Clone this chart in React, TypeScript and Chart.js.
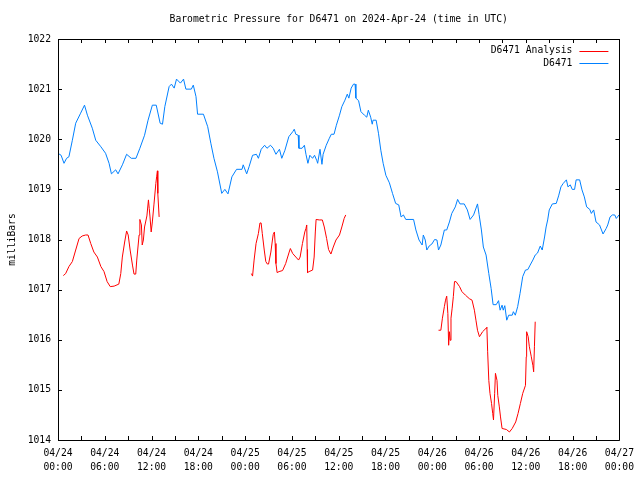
import React, { useEffect, useRef } from "react";
import { Chart, registerables } from "chart.js";

Chart.register(...registerables);

const TITLE = "Barometric Pressure for D6471 on 2024-Apr-24 (time in UTC)";
const Y_TITLE = "milliBars";
const START_DAY = 24;
const X_MIN = 0;
const X_MAX = 72;
const Y_MIN = 1014;
const Y_MAX = 1022;

const analysisLabel = "D6471 Analysis";
const observedLabel = "D6471";

// hours since 2024-04-24 00:00 UTC
const observedHours = [
  0.0, 0.4, 0.77, 1.1, 1.4, 1.84, 2.27, 2.9, 3.4, 3.77, 4.4, 4.84, 5.5, 6.1, 6.55, 6.85, 7.4, 7.7, 8.26, 8.8,
  9.4, 10.0, 10.5, 11.1, 11.55, 12.1, 12.6, 13.1, 13.4, 13.7, 14.25, 14.55, 14.9, 15.2, 15.7, 16.1, 16.4, 17.1,
  17.35, 17.7, 17.9, 18.65, 19.2, 19.6, 20.0, 20.45, 21.0, 21.4, 21.8, 22.3, 22.9, 23.6, 23.75, 24.2, 24.5,
  24.95, 25.45, 25.7, 26.06, 26.5, 26.8, 27.25, 27.6, 27.95, 28.4, 28.7, 29.1, 29.6, 30.1, 30.3, 30.5, 30.8,
  30.9, 31.3, 31.6, 31.8, 32.05, 32.3, 32.65, 32.9, 33.2, 33.3, 33.6, 33.85, 34.0, 34.4, 34.8, 35.05, 35.4,
  35.7, 36.1, 36.4, 36.8, 37.1, 37.3, 37.6, 37.9, 38.1, 38.2, 38.55, 38.85, 39.3, 39.6, 39.8, 40.1, 40.3, 40.4,
  40.8, 41.1, 41.4, 41.7, 42.05, 42.5, 42.9, 43.3, 43.7, 44.0, 44.3, 44.6, 45.6, 45.9, 46.3, 46.7, 46.85, 47.1,
  47.3, 47.6, 47.95, 48.3, 48.6, 48.8, 49.1, 49.55, 49.85, 50.2, 50.5, 50.95, 51.25, 51.55, 52.1, 52.5, 52.85,
  53.3, 53.8, 54.0, 54.3, 54.55, 54.9, 55.25, 55.55, 55.8, 56.2, 56.5, 56.7, 56.95, 57.1, 57.3, 57.55, 57.8,
  58.25, 58.4, 58.65, 58.95, 59.25, 59.6, 59.95, 60.25, 60.55, 60.9, 61.2, 61.5, 61.85, 62.1, 62.4, 62.6, 62.8,
  63.0, 63.4, 63.9, 64.2, 64.5, 64.8, 65.2, 65.4, 65.7, 65.95, 66.25, 66.45, 66.9, 67.2, 67.5, 67.8, 68.2, 68.4,
  68.7, 69.0, 69.45, 69.9, 70.3, 70.5, 70.8, 71.1, 71.4, 71.6, 71.95,
];

const observedPressure = [
  1019.72, 1019.68, 1019.52, 1019.62, 1019.65, 1019.98, 1020.32, 1020.52, 1020.68, 1020.48, 1020.22, 1019.98,
  1019.85, 1019.72, 1019.52, 1019.31, 1019.39, 1019.31, 1019.49, 1019.7, 1019.62, 1019.62, 1019.82, 1020.08,
  1020.38, 1020.68, 1020.68, 1020.32, 1020.3, 1020.65, 1021.05, 1021.1, 1021.02, 1021.2, 1021.12, 1021.2,
  1021.0, 1021.0, 1021.08, 1020.85, 1020.5, 1020.5, 1020.25, 1019.92, 1019.62, 1019.35, 1018.92, 1019.0,
  1018.91, 1019.25, 1019.4, 1019.4, 1019.49, 1019.31, 1019.45, 1019.68, 1019.7, 1019.62, 1019.8, 1019.88,
  1019.82, 1019.88, 1019.82, 1019.7, 1019.8, 1019.62, 1019.78, 1020.05, 1020.15, 1020.2, 1020.1, 1020.08,
  1019.82, 1019.82, 1019.88, 1019.7, 1019.52, 1019.68, 1019.62, 1019.68, 1019.57, 1019.52, 1019.8, 1019.5,
  1019.7, 1019.88, 1020.02, 1020.1, 1020.1, 1020.28, 1020.48, 1020.65, 1020.78, 1020.9, 1020.82, 1021.02,
  1021.1, 1021.1, 1020.82, 1020.77, 1020.55, 1020.48, 1020.44, 1020.58, 1020.44, 1020.3, 1020.38, 1020.38,
  1020.12, 1019.78, 1019.52, 1019.28, 1019.13, 1018.92, 1018.72, 1018.69, 1018.45, 1018.49, 1018.4, 1018.4,
  1018.19, 1017.99, 1017.89, 1018.09, 1017.99, 1017.79, 1017.87, 1017.91, 1018.0, 1017.99, 1017.79, 1017.89,
  1018.19, 1018.19, 1018.35, 1018.52, 1018.65, 1018.8, 1018.71, 1018.71, 1018.59, 1018.4, 1018.49, 1018.71,
  1018.5, 1018.19, 1017.85, 1017.69, 1017.32, 1017.02, 1016.7, 1016.7, 1016.78, 1016.59, 1016.69, 1016.59,
  1016.68, 1016.39, 1016.49, 1016.49, 1016.56, 1016.49, 1016.66, 1016.92, 1017.26, 1017.39, 1017.4, 1017.49,
  1017.59, 1017.69, 1017.73, 1017.87, 1017.79, 1018.05, 1018.25, 1018.39, 1018.59, 1018.71, 1018.72, 1018.87,
  1019.05, 1019.12, 1019.19, 1019.05, 1019.09, 1019.0, 1019.0, 1019.19, 1019.19, 1018.99, 1018.85, 1018.65,
  1018.6, 1018.52, 1018.59, 1018.35, 1018.29, 1018.11, 1018.22, 1018.29, 1018.45, 1018.49, 1018.49, 1018.42,
  1018.49,
];

// null entries break the analysis line into its separate runs
const analysisHours = [
  0.68, 0.98, 1.4, 1.84, 2.27, 2.7, 3.1, 3.55, 3.85, 4.2, 4.6, 5.05, 5.5, 5.9, 6.3, 6.7, 7.2, 7.8, 8.05, 8.25,
  8.55, 8.8, 9.0, 9.25, 9.55, 9.75, 9.97, 10.1, 10.4, 10.5, 10.7, 10.8, 10.95, 11.1, 11.4, 11.6, 11.7, 11.8,
  11.95, 12.1, 12.3, 12.55, 12.65, 12.75, 12.8, 12.97,
  18.0,
  24.8, 24.95, 25.15, 25.4, 25.7, 25.9, 26.05, 26.2, 26.45, 26.65, 26.85, 27.0, 27.3, 27.5, 27.6, 27.75, 27.85,
  27.95, 28.1, 28.35, 28.8, 29.2, 29.65, 29.8, 30.1, 30.5, 30.85, 31.05, 31.35, 31.65, 31.8, 31.9, 31.95, 32.0,
  32.2, 32.65, 32.85, 33.0, 33.1, 33.5, 33.9, 34.15, 34.45, 34.7, 35.0, 35.3, 35.65, 36.1, 36.4, 36.7, 36.9,
  42.0,
  48.8, 49.1, 49.3, 49.55, 49.7, 49.85, 50.0, 50.1, 50.2, 50.3, 50.4, 50.55, 50.7, 50.85, 51.05, 51.5, 51.8,
  52.25, 52.75, 53.1, 53.4, 53.6, 53.8, 54.05, 54.45, 54.9, 55.0, 55.1, 55.25, 55.4, 55.6, 55.75, 55.85, 56.0,
  56.1, 56.3, 56.4, 56.6, 56.75, 56.95, 57.5, 57.9, 58.25, 58.7, 59.0, 59.3, 59.6, 59.95, 60.05, 60.1, 60.3,
  60.45, 60.7, 60.9, 61.0, 61.1, 61.2,
];

const analysisPressure = [
  1017.28, 1017.32, 1017.46, 1017.56, 1017.79, 1018.02, 1018.07, 1018.09, 1018.09, 1017.92, 1017.75, 1017.65,
  1017.46, 1017.36, 1017.16, 1017.06, 1017.07, 1017.11, 1017.32, 1017.65, 1017.95, 1018.17, 1018.09, 1017.79,
  1017.49, 1017.31, 1017.31, 1017.59, 1018.09, 1018.4, 1018.29, 1017.89, 1017.99, 1018.25, 1018.47, 1018.79,
  1018.62, 1018.45, 1018.15, 1018.35, 1018.69, 1019.12, 1019.25, 1019.37, 1018.92, 1018.45,
  null,
  1017.32, 1017.27, 1017.59, 1017.92, 1018.12, 1018.33, 1018.33, 1018.12, 1017.79, 1017.56, 1017.51, 1017.51,
  1017.75, 1017.99, 1018.1, 1018.15, 1017.92, 1017.52, 1017.34, 1017.36, 1017.38, 1017.52, 1017.75, 1017.82,
  1017.72, 1017.65, 1017.59, 1017.65, 1017.92, 1018.15, 1018.22, 1018.29, 1017.8, 1017.34, 1017.36, 1017.39,
  1017.65, 1018.15, 1018.4, 1018.39, 1018.39, 1018.25, 1018.02, 1017.8, 1017.71, 1017.85, 1017.99, 1018.09,
  1018.25, 1018.42, 1018.49,
  null,
  1016.19, 1016.19, 1016.43, 1016.66, 1016.79, 1016.87, 1016.52, 1015.89, 1016.16, 1015.99, 1016.43, 1016.63,
  1016.86, 1017.16, 1017.16, 1017.06, 1016.96, 1016.89, 1016.82, 1016.79, 1016.59, 1016.39, 1016.19, 1016.06,
  1016.16, 1016.23, 1016.25, 1015.76, 1015.19, 1014.93, 1014.73, 1014.53, 1014.4, 1014.93, 1015.33, 1015.19,
  1014.89, 1014.66, 1014.46, 1014.23, 1014.21, 1014.16, 1014.23, 1014.36, 1014.53, 1014.73, 1014.93, 1015.09,
  1015.66, 1016.16, 1016.06, 1015.86, 1015.66, 1015.49, 1015.36, 1015.86, 1016.36,
];

const FONT_FAMILY = "'DejaVu Sans Mono', monospace";
const FONT_SIZE = 9.7;

function pad2(n: number) {
  return n < 10 ? "0" + n : String(n);
}

function xTickLabel(value: number): string | string[] {
  if (value % 6 !== 0) return "";
  const day = START_DAY + Math.floor(value / 24);
  const hour = value % 24;
  return ["04/" + pad2(day), pad2(hour) + ":00"];
}

const framePlugin = {
  id: "gnuplotFrame",
  afterDraw(chart: any) {
    const { ctx, chartArea } = chart;
    const { left, right, top, bottom } = chartArea;
    const xs = chart.scales.x;
    const ys = chart.scales.y;
    const tick = 4;
    ctx.save();
    ctx.strokeStyle = "#000";
    ctx.lineWidth = 1;
    ctx.beginPath();
    ctx.rect(Math.round(left) + 0.5, Math.round(top) + 0.5, Math.round(right - left), Math.round(bottom - top));
    for (const t of xs.ticks) {
      const px = Math.round(xs.getPixelForValue(t.value)) + 0.5;
      ctx.moveTo(px, bottom);
      ctx.lineTo(px, bottom - tick);
      ctx.moveTo(px, top);
      ctx.lineTo(px, top + tick);
    }
    for (const t of ys.ticks) {
      const py = Math.round(ys.getPixelForValue(t.value)) + 0.5;
      ctx.moveTo(left, py);
      ctx.lineTo(left + tick, py);
      ctx.moveTo(right, py);
      ctx.lineTo(right - tick, py);
    }
    ctx.stroke();

    ctx.fillStyle = "#000";
    ctx.font = FONT_SIZE + "px " + FONT_FAMILY;
    ctx.textAlign = "center";
    ctx.textBaseline = "middle";
    ctx.fillText(TITLE, (left + right) / 2, 19.5);

    // legend, top-right inside the plot
    const datasets = chart.data.datasets;
    ctx.textAlign = "right";
    datasets.forEach((ds: any, i: number) => {
      const y = top + 11.5 + i * 12.5;
      ctx.fillStyle = "#000";
      ctx.fillText(ds.label, right - 47, y);
      ctx.strokeStyle = ds.borderColor;
      ctx.beginPath();
      ctx.moveTo(right - 40, Math.round(y) + 0.5);
      ctx.lineTo(right - 11, Math.round(y) + 0.5);
      ctx.stroke();
    });
    ctx.restore();
  },
};

export default function App() {
  const canvasRef = useRef<HTMLCanvasElement | null>(null);

  useEffect(() => {
    if (!canvasRef.current) return;
    const observed = observedHours.map((h, i) => ({ x: h, y: observedPressure[i] }));
    const analysis = analysisHours.map((h, i) => ({ x: h, y: analysisPressure[i] }));
    const font = { family: FONT_FAMILY, size: FONT_SIZE, lineHeight: 1.5 };

    const chart = new Chart(canvasRef.current, {
      type: "line",
      data: {
        datasets: [
          {
            label: analysisLabel,
            data: analysis as any,
            borderColor: "#ff0000",
            borderWidth: 1,
            pointRadius: 0,
            spanGaps: false,
            tension: 0,
          },
          {
            label: observedLabel,
            data: observed as any,
            borderColor: "#0080ff",
            borderWidth: 1,
            pointRadius: 0,
            tension: 0,
          },
        ],
      },
      plugins: [framePlugin],
      options: {
        animation: false,
        responsive: false,
        devicePixelRatio: 1,
        layout: { padding: { left: 0, right: 19, top: 39, bottom: 0 } },
        plugins: {
          legend: { display: false },
          title: { display: false },
          tooltip: { enabled: false },
        },
        scales: {
          x: {
            type: "linear",
            min: X_MIN,
            max: X_MAX,
            grid: { display: false, drawTicks: false },
            border: { display: false },
            ticks: {
              stepSize: 3,
              autoSkip: false,
              maxRotation: 0,
              padding: 6,
              color: "#000",
              font,
              callback: (v: any) => xTickLabel(Number(v)),
            },
            afterFit: (scale: any) => {
              scale.height = 40;
            },
          },
          y: {
            type: "linear",
            min: Y_MIN,
            max: Y_MAX,
            grid: { display: false, drawTicks: false },
            border: { display: false },
            ticks: {
              stepSize: 1,
              padding: 7,
              color: "#000",
              font: { family: FONT_FAMILY, size: FONT_SIZE },
              callback: (v: any) => String(v),
            },
            title: {
              display: true,
              text: Y_TITLE,
              color: "#000",
              font: { family: FONT_FAMILY, size: FONT_SIZE },
              padding: { top: 7, bottom: 0 },
            },
            afterFit: (scale: any) => {
              scale.width = 58;
            },
          },
        },
      },
    });
    return () => chart.destroy();
  }, []);

  return (
    <div style={{ position: "fixed", left: 0, top: 0, width: 640, height: 480, background: "#fff" }}>
      <canvas ref={canvasRef} width={640} height={480} />
    </div>
  );
}
